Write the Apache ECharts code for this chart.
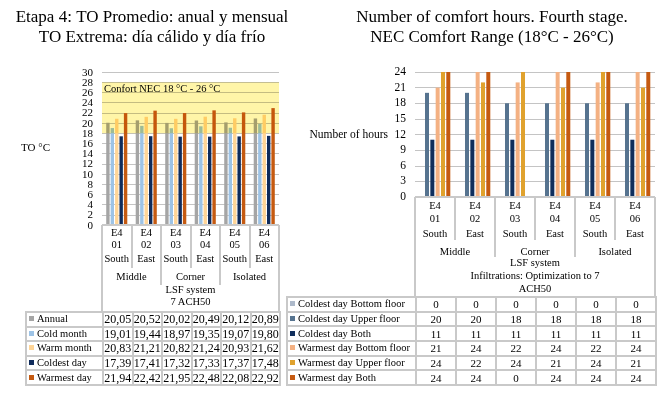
<!DOCTYPE html>
<html>
<head>
<meta charset="utf-8">
<script src="https://cdn.jsdelivr.net/npm/echarts@6/dist/echarts.min.js"></script>
<style>
	html, body { margin: 0; padding: 0; background: #fff; }
	#wrap { position: relative; width: 669px; height: 397px; overflow: hidden;
		font-family: 'Liberation Serif', 'Times New Roman', serif; color: #000; }
	#chart { position: absolute; left: 0; top: 0; width: 669px; height: 397px; }
	.abs { position: absolute; white-space: nowrap; text-align: center; }
	.tick { position: absolute; white-space: nowrap; text-align: right; width: 30px; font-size: 11px; line-height: 10px; }
	.vline { position: absolute; width: 0; border-left: 2px solid #c9c9c9; }
	table.data { position: absolute; border-collapse: collapse; table-layout: fixed; }
	table.data td { border: 2px solid #c9c9c9; padding: 0; line-height: 10px; text-align: center; white-space: nowrap; overflow: hidden; }
	table.data td.lab { text-align: left; padding-left: 2px; }
	.key { display: inline-block; width: 5px; height: 5px; margin-right: 3px; vertical-align: 1px; }
</style>
</head>
<body>
<div id="wrap">
	<div id="chart"></div>
</div>
<script>
// categorias y etiquetas
var categories = ['E4\n01', 'E4\n02', 'E4\n03', 'E4\n04', 'E4\n05', 'E4\n06'];
var orientations = ['South', 'East', 'South', 'East', 'South', 'East'];
var locations = ['Middle', 'Corner', 'Isolated'];
var systemLeft = ['LSF system', '7 ACH50'];
var systemRight = ['LSF system', 'Infiltrations: Optimization to 7', 'ACH50'];
var tempTicks = [0, 2, 4, 6, 8, 10, 12, 14, 16, 18, 20, 22, 24, 26, 28, 30];

// TO (°C)
var annual = [20.05, 20.52, 20.02, 20.49, 20.12, 20.89];
var coldMonth = [19.01, 19.44, 18.97, 19.35, 19.07, 19.80];
var warmMonth = [20.83, 21.21, 20.82, 21.24, 20.93, 21.62];
var coldestDay = [17.39, 17.41, 17.32, 17.33, 17.37, 17.48];
var warmestDay = [21.94, 22.42, 21.95, 22.48, 22.08, 22.92];
var comfortBand = [18, 28]; // franja amarilla del grafico

// horas de confort
var cdBottom = [0, 0, 0, 0, 0, 0];
var cdUpper = [20, 20, 18, 18, 18, 18];
var cdBoth = [11, 11, 11, 11, 11, 11];
var wdBottom = [21, 24, 22, 24, 22, 24];
var wdUpper = [24, 22, 24, 21, 24, 21];
var wdBoth = [24, 24, 0, 24, 24, 24];

var leftSeries = [
	{name: 'Annual', data: annual, color: '#A5A5A5'},
	{name: 'Cold month', data: coldMonth, color: '#9DC3E6'},
	{name: 'Warm month', data: warmMonth, color: '#FFD597'},
	{name: 'Coldest day', data: coldestDay, color: '#0F2B5B'},
	{name: 'Warmest day', data: warmestDay, color: '#C55A11'}
];
var rightSeries = [
	{name: 'Coldest day Bottom floor', data: cdBottom, color: '#ADB9CA'},
	{name: 'Coldest day Upper floor', data: cdUpper, color: '#56738F'},
	{name: 'Coldest day Both', data: cdBoth, color: '#102E5C'},
	{name: 'Warmest day Bottom floor', data: wdBottom, color: '#F4B183'},
	{name: 'Warmest day Upper floor', data: wdUpper, color: '#E0A22E'},
	{name: 'Warmest day Both', data: wdBoth, color: '#C55A11'}
];

var FONT = "'Liberation Serif', 'Times New Roman', serif";
var LG = {x: 102, y: 72, w: 177, h: 153};
var RG = {x: 415, y: 72, w: 240, h: 125};

var chart = echarts.init(document.getElementById('chart'), null, {renderer: 'canvas'});

function yAxisOf(idx, max, step, name, gap, size, labels) {
	return {
		gridIndex: idx, type: 'value', min: 0, max: max, interval: step,
		name: name, nameLocation: 'middle', nameRotate: 0, nameGap: gap,
		nameTextStyle: {color: '#000', fontFamily: FONT, fontSize: size, align: 'right'},
		axisLine: {show: false}, axisTick: {show: false},
		axisLabel: {show: labels, color: '#000', fontFamily: FONT, fontSize: size, margin: 9,
			showMinLabel: true, showMaxLabel: true},
		splitLine: {lineStyle: {color: '#c4c4c4', width: 1}}
	};
}

var series = [];
leftSeries.forEach(function(s) {
	series.push({
		name: s.name, type: 'bar', xAxisIndex: 0, yAxisIndex: 0,
		data: s.data, barWidth: 3.4, barGap: '30%',
		itemStyle: {color: s.color}, z: 2
	});
});
// franja de confort: barra apilada sobre un eje oculto, mezclada en "multiply"
series.push({
	type: 'bar', xAxisIndex: 2, yAxisIndex: 0, stack: 'band', barWidth: '100%',
	data: [comfortBand[0]], itemStyle: {color: 'rgba(0,0,0,0)'}, silent: true, z: 3
});
series.push({
	type: 'bar', xAxisIndex: 2, yAxisIndex: 0, stack: 'band', barWidth: '100%',
	data: [comfortBand[1] - comfortBand[0]], silent: true, z: 3,
	blendMode: 'multiply',
	itemStyle: {color: '#FFF5A8'},
	label: {
		show: true, position: 'insideTopLeft', distance: 2,
		color: '#000', fontFamily: FONT, fontSize: 10.5,
		formatter: 'Confort NEC 18 °C - 26 °C'
	}
});
rightSeries.forEach(function(s) {
	series.push({
		name: s.name, type: 'bar', xAxisIndex: 1, yAxisIndex: 1,
		data: s.data, barWidth: 4, barGap: '33%',
		itemStyle: {color: s.color}
	});
});

chart.setOption({
	animation: false,
	title: [{
		text: 'Etapa 4: TO Promedio: anual y mensual\nTO Extrema: día cálido y día frío',
		left: 152, top: 8, textAlign: 'center', padding: 0,
		textStyle: {fontFamily: FONT, fontWeight: 'normal', fontSize: 17, lineHeight: 20, color: '#000'}
	}, {
		text: 'Number of comfort hours. Fourth stage.\nNEC Comfort Range (18°C - 26°C)',
		left: 492, top: 8, textAlign: 'center', padding: 0,
		textStyle: {fontFamily: FONT, fontWeight: 'normal', fontSize: 17, lineHeight: 20, color: '#000'}
	}],
	grid: [
		{left: LG.x, top: LG.y, width: LG.w, height: LG.h},
		{left: RG.x, top: RG.y, width: RG.w, height: RG.h}
	],
	xAxis: [
		{gridIndex: 0, type: 'category', data: categories, axisLine: {show: false},
			axisTick: {show: false}, axisLabel: {show: false}},
		{gridIndex: 1, type: 'category', data: categories, axisLine: {show: false},
			axisTick: {show: false}, axisLabel: {show: false}},
		{gridIndex: 0, type: 'category', data: ['band'], show: false}
	],
	yAxis: [
		yAxisOf(0, 30, 2, 'TO °C', 52, 11, false),
		yAxisOf(1, 24, 3, 'Number of hours', 27, 11.5, true)
	],
	series: series
});

// cabeceras jerárquicas y tablas de datos
var wrap = document.getElementById('wrap');

// etiquetas del eje TO: muy juntas, ECharts 6 oculta algunas, se colocan con la escala del eje
tempTicks.forEach(function(v) {
	var y = chart.convertToPixel({yAxisIndex: 0}, v);
	var d = document.createElement('div');
	d.className = 'tick';
	d.style.left = (LG.x - 9 - 30) + 'px';
	d.style.top = (y - 5.5) + 'px';
	d.textContent = v;
	wrap.appendChild(d);
});

function put(html, x, y, w, lh, size) {
	var d = document.createElement('div');
	d.className = 'abs';
	d.style.left = x + 'px';
	d.style.top = y + 'px';
	d.style.width = w + 'px';
	d.style.lineHeight = lh + 'px';
	d.style.fontSize = size + 'px';
	d.innerHTML = html;
	wrap.appendChild(d);
}
function vline(x, y1, y2) {
	var d = document.createElement('div');
	d.className = 'vline';
	d.style.left = (x - 1) + 'px';
	d.style.top = y1 + 'px';
	d.style.height = (y2 - y1) + 'px';
	wrap.appendChild(d);
}

function header(g, top, bottom, rowTops, lh, pairEnd, groupEnd, sysLines) {
	var cw = g.w / categories.length;
	vline(g.x, top, bottom);
	vline(g.x + g.w, top, bottom);
	var hl = document.createElement('div');
	hl.style.cssText = 'position:absolute;border-top:2px solid #c9c9c9;left:' + g.x + 'px;top:' + (top - 1) + 'px;width:' + g.w + 'px;';
	wrap.appendChild(hl);
	categories.forEach(function(c, i) {
		put(c.replace('\n', '<br>'), g.x + i * cw, rowTops[0], cw, lh, 10.5);
		put(orientations[i], g.x + i * cw, rowTops[1], cw, lh, 10.5);
		if (i > 0) vline(g.x + i * cw, top, i % 2 ? pairEnd : groupEnd);
	});
	locations.forEach(function(l, i) {
		put(l, g.x + i * 2 * cw, rowTops[2], cw * 2, lh, 10.5);
	});
	put(sysLines.join('<br>'), g.x, rowTops[3], g.w, lh, 10.5);
}

header(LG, 225, 311, [227, 253, 271, 284], 11.5, 268, 285, systemLeft);
header(RG, 197, 296, [198.5, 226.5, 244.5, 255.5], 13, 240, 257, systemRight);

function fmt(v) { return v.toFixed(2).replace('.', ','); }

function table(list, x, y, labW, g, rowH, valSize, valFmt) {
	var cw = g.w / categories.length;
	var t = document.createElement('table');
	t.className = 'data';
	t.style.left = x + 'px';
	t.style.top = y + 'px';
	t.style.width = (labW + g.w) + 'px';
	var html = '<colgroup><col style="width:' + labW + 'px">';
	categories.forEach(function() { html += '<col style="width:' + cw + 'px">'; });
	html += '</colgroup>';
	list.forEach(function(s) {
		html += '<tr style="height:' + rowH + 'px"><td class="lab" style="font-size:10.5px">' +
			'<span class="key" style="background:' + s.color + '"></span>' + s.name + '</td>';
		s.data.forEach(function(v) {
			html += '<td style="font-size:' + valSize + 'px">' + valFmt(v) + '</td>';
		});
		html += '</tr>';
	});
	t.innerHTML = html;
	wrap.appendChild(t);
}

table(leftSeries, 25, 311, 77, LG, 14.6, 12, fmt);
table(rightSeries, 286, 296, 129, RG, 14.67, 11, function(v) { return String(v); });
</script>
</body>
</html>
